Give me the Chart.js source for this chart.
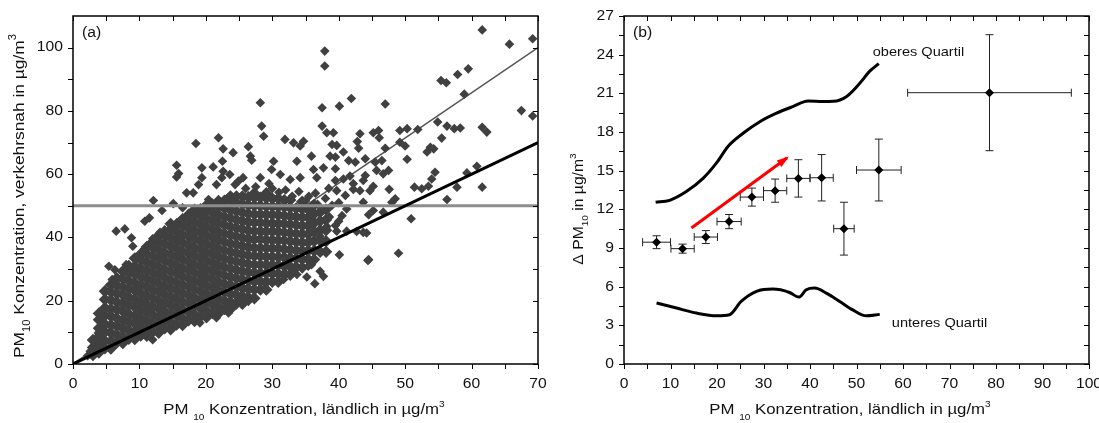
<!DOCTYPE html>
<html>
<head>
<meta charset="utf-8">
<script src="https://cdn.jsdelivr.net/npm/chart.js@4.4.0/dist/chart.umd.min.js"></script>
<style>
  body { margin: 0; background: #fff; }
  #wrap { position: relative; width: 1099px; height: 423px; }
  .panel { position: absolute; top: 0; }
  #panelA { left: 0; }
  #panelB { left: 549px; }
</style>
</head>
<body>
<div id="wrap">
  <div class="panel" id="panelA"><canvas id="chartA" width="549" height="423"></canvas></div>
  <div class="panel" id="panelB"><canvas id="chartB" width="550" height="423"></canvas></div>
</div>
<script>
// ---------- panel (a): PM10 laendlich vs verkehrsnah ----------
// dense part of the cloud, read column by column
const coreRural = [3.0, 3.9, 4.8, 5.7, 6.6, 7.5, 8.4, 9.3, 10.2, 11.1, 12.0, 12.9, 13.8, 14.7, 15.6, 16.5,
  17.4, 18.3, 19.2, 20.1, 21.0, 21.9, 22.8, 23.7, 24.6, 25.5, 26.4, 27.3, 28.2, 29.1, 30.0, 30.9,
  31.8, 32.7, 33.6, 34.5, 35.4, 36.3, 37.2, 38.1];
const coreRoadside = [
  [2.8, 5.2, 7.6],
  [3.6, 6.2, 8.7, 11.3, 14.0, 16.0],
  [5.0, 7.3, 10.1, 12.6, 15.3, 17.7, 20.4, 23.0],
  [4.9, 7.2, 9.9, 12.3, 15.1, 17.4, 20.2, 22.8, 25.0],
  [6.8, 9.2, 12.0, 14.5, 17.2, 19.6, 22.3, 24.9, 27.1],
  [6.6, 8.7, 11.4, 13.9, 16.7, 19.2, 21.9, 24.3, 27.0, 29.3],
  [8.0, 10.7, 13.3, 15.8, 18.6, 21.1, 23.8, 26.3, 28.9, 31.0],
  [7.9, 10.0, 12.7, 15.2, 18.0, 20.5, 23.2, 25.7, 28.4, 30.9, 33.4],
  [9.0, 11.8, 14.5, 17.0, 19.8, 22.4, 25.0, 27.7, 30.2, 32.9, 34.8],
  [8.9, 10.9, 13.6, 16.4, 18.9, 21.6, 24.3, 26.9, 29.6, 32.2, 34.8, 37.0],
  [10.2, 12.9, 15.5, 18.2, 20.9, 23.5, 26.2, 28.8, 31.5, 34.1, 36.8, 38.6],
  [9.9, 12.1, 14.8, 17.5, 20.1, 22.8, 25.4, 28.1, 30.7, 33.4, 36.0, 38.6, 40.6],
  [11.3, 14.0, 16.6, 19.3, 22.0, 24.6, 27.3, 29.9, 32.6, 35.2, 37.9, 40.5, 42.0],
  [11.0, 13.2, 15.9, 18.6, 21.2, 23.9, 26.5, 29.2, 31.9, 34.5, 37.2, 39.8, 42.5, 44.3],
  [12.5, 15.2, 17.8, 20.5, 23.2, 25.8, 28.5, 31.1, 33.8, 36.4, 39.1, 41.7, 44.2],
  [12.3, 14.4, 17.1, 19.7, 22.4, 25.0, 27.7, 30.3, 33.0, 35.6, 38.3, 40.9, 43.6, 45.8],
  [13.8, 16.4, 19.1, 21.7, 24.4, 27.0, 29.7, 32.3, 35.0, 37.6, 40.3, 42.9, 45.5, 47.2],
  [13.6, 15.6, 18.3, 20.9, 23.6, 26.2, 28.9, 31.5, 34.2, 36.8, 39.5, 42.1, 44.8, 47.4, 48.8],
  [15.0, 17.6, 20.3, 22.9, 25.6, 28.2, 30.9, 33.5, 36.2, 38.8, 41.5, 44.1, 46.8, 48.9],
  [14.8, 16.8, 19.4, 22.1, 24.7, 27.4, 30.0, 32.7, 35.3, 38.0, 40.6, 43.3, 45.9, 48.6, 50.2],
  [16.1, 18.8, 21.4, 24.1, 26.7, 29.4, 32.0, 34.7, 37.3, 40.0, 42.6, 45.3, 47.9, 50.4],
  [16.0, 18.0, 20.6, 23.3, 25.9, 28.6, 31.2, 33.9, 36.5, 39.2, 41.8, 44.5, 47.1, 49.8, 51.5],
  [17.4, 20.0, 22.7, 25.3, 28.0, 30.6, 33.3, 35.9, 38.6, 41.2, 43.9, 46.5, 49.2, 51.6],
  [17.4, 19.6, 22.2, 24.9, 27.5, 30.2, 32.8, 35.5, 38.1, 40.8, 43.4, 46.1, 48.7, 51.4, 53.0],
  [19.1, 21.8, 24.4, 27.1, 29.7, 32.4, 35.0, 37.7, 40.3, 43.0, 45.6, 48.3, 50.9, 53.0],
  [19.0, 21.4, 24.0, 26.7, 29.3, 32.0, 34.6, 37.3, 39.9, 42.6, 45.2, 47.9, 50.5, 53.0],
  [21.0, 23.7, 26.3, 29.0, 31.6, 34.3, 36.9, 39.6, 42.2, 44.9, 47.5, 50.2, 52.7],
  [20.8, 23.5, 26.1, 28.8, 31.4, 34.1, 36.7, 39.4, 42.0, 44.7, 47.3, 50.0, 52.6, 54.0],
  [23.5, 26.1, 28.8, 31.4, 34.1, 36.7, 39.4, 42.0, 44.7, 47.3, 50.0, 52.6],
  [23.5, 26.0, 28.6, 31.3, 33.9, 36.6, 39.2, 41.9, 44.5, 47.2, 49.8, 52.5, 54.0],
  [26.0, 28.6, 31.3, 33.9, 36.6, 39.2, 41.9, 44.5, 47.2, 49.8, 52.3],
  [26.0, 28.5, 31.2, 33.8, 36.5, 39.1, 41.8, 44.4, 47.1, 49.7, 52.3],
  [28.4, 31.0, 33.7, 36.3, 39.0, 41.6, 44.3, 46.9, 49.6, 51.8],
  [28.2, 30.8, 33.5, 36.1, 38.8, 41.4, 44.1, 46.7, 49.4, 51.8],
  [30.6, 33.3, 35.9, 38.6, 41.2, 43.9, 46.5, 49.2],
  [30.5, 33.1, 35.8, 38.4, 41.1, 43.7, 46.4, 49.0, 51.3],
  [33.1, 35.8, 38.4, 41.1, 43.7, 46.3, 48.8],
  [33.0, 35.8, 38.9, 41.8, 44.6, 47.5, 50.3],
  [35.5, 39.0, 42.3, 45.2, 48.0],
  [35.5, 38.8, 42.3, 45.6, 48.8]
];
// scattered points around the cloud
const outRural = [61.6, 65.7, 69.2, 59.5, 57.9, 55.4, 56.2, 58.9, 41.9, 40.1, 47.0, 67.5, 69.2, 54.9, 56.3, 57.4,
  58.3, 61.6, 62.3, 51.9, 49.2, 50.3, 46.0, 46.1, 55.5, 43.2, 42.8, 39.2, 49.2, 50.0, 47.0, 43.0,
  53.8, 53.3, 54.3, 50.3, 44.0, 45.5, 46.5, 47.5, 46.7, 45.7, 44.0, 54.5, 54.0, 53.5, 52.5, 51.4,
  59.3, 60.8, 61.6, 57.8, 56.3, 47.6, 48.5, 48.0, 50.9, 49.0, 44.4, 40.1, 43.7, 44.2, 42.7, 45.2,
  46.7, 44.5, 41.2, 40.5, 39.5, 43.7, 43.2, 44.7, 43.7, 42.2, 41.0, 39.7, 40.7, 39.5, 42.5, 41.5,
  40.7, 39.5, 39.7, 39.5, 37.9, 37.9, 28.2, 37.5, 28.4, 28.7, 37.5, 38.2, 21.9, 26.4, 22.6, 24.1,
  26.7, 26.9, 31.9, 33.2, 34.7, 34.2, 35.9, 39.0, 38.7, 45.2, 19.4, 21.1, 22.5, 22.6, 23.6, 25.6,
  24.4, 21.6, 19.4, 28.2, 30.2, 29.9, 31.2, 32.7, 34.2, 33.7, 36.2, 37.7, 36.7, 41.7, 45.2, 42.2,
  40.0, 44.5, 39.7, 38.2, 37.2, 35.7, 35.4, 37.2, 37.7, 36.4, 33.7, 33.2, 18.5, 15.6, 15.9, 15.6,
  22.4, 24.9, 18.1, 18.9, 17.1, 20.4, 12.1, 13.4, 15.1, 16.5, 11.5, 10.8, 6.5, 7.8, 8.8, 9.0,
  13.1, 12.0, 14.8, 10.8, 5.4, 6.3, 8.0, 5.9, 9.3, 12.0, 3.8, 3.8, 21.6, 23.1, 25.1, 26.4,
  19.1, 23.4, 28.9, 31.7, 31.9, 41.2, 35.2, 35.9, 2.2, 2.6, 36.8, 38.0, 37.5, 39.0, 38.6, 40.0,
  35.5, 34.0, 32.0, 30.0, 27.5, 26.0, 29.5, 31.0, 33.0, 35.0, 36.5, 38.5];
const outRoadside = [105.6, 101.1, 102.8, 93.3, 91.5, 89.6, 88.9, 85.3, 83.9, 81.5, 82.2, 80.1, 78.4, 76.5, 75.2, 74.4,
  74.6, 74.8, 73.3, 74.1, 73.8, 74.4, 73.8, 71.5, 71.4, 72.8, 70.3, 73.1, 70.1, 68.9, 68.2, 68.2,
  68.5, 67.0, 68.0, 64.7, 64.9, 63.8, 64.3, 61.2, 60.1, 61.2, 59.6, 60.6, 58.5, 56.2, 55.4, 55.9,
  60.4, 62.5, 55.9, 55.9, 52.0, 55.2, 52.2, 51.1, 45.9, 35.0, 32.7, 34.5, 41.6, 41.4, 41.9, 48.5,
  48.0, 47.2, 49.0, 46.9, 43.8, 51.1, 54.8, 54.8, 58.0, 57.0, 53.3, 54.8, 58.5, 58.0, 63.8, 64.3,
  67.0, 65.4, 69.1, 61.7, 98.9, 94.2, 82.6, 81.0, 75.2, 72.0, 75.2, 73.1, 71.5, 68.7, 68.0, 66.8,
  65.7, 64.4, 71.0, 69.9, 70.4, 68.9, 65.7, 69.4, 65.7, 73.1, 62.0, 62.3, 64.1, 60.9, 59.9, 58.9,
  56.7, 56.7, 58.9, 58.9, 64.1, 61.5, 59.9, 58.3, 58.9, 64.1, 61.5, 62.0, 58.9, 59.4, 56.2, 55.2,
  45.1, 33.0, 42.0, 43.5, 40.4, 38.8, 30.9, 29.3, 27.7, 25.4, 28.3, 29.8, 69.7, 62.8, 60.2, 59.1,
  58.9, 57.8, 54.1, 56.7, 54.1, 52.0, 51.7, 48.5, 50.7, 49.4, 46.2, 45.1, 42.0, 42.7, 39.9, 37.2,
  41.6, 39.6, 43.8, 36.4, 30.9, 29.8, 31.4, 26.7, 29.8, 7.7, 9.8, 5.6, 14.6, 18.2, 20.3, 19.8,
  13.0, 16.1, 24.0, 26.7, 28.8, 42.0, 27.5, 31.4, 2.6, 4.0, 50.5, 52.3, 48.8, 50.2, 46.5, 51.0,
  53.0, 54.5, 55.0, 55.5, 56.0, 55.5, 57.0, 54.3, 53.0, 51.5, 54.0, 55.5];
const refLineX = [0, 70];
const oneToOneY = [0, 70];
const regressionY = [0, 100];
const limitY = [50, 50];

const xTicksA = [0, 10, 20, 30, 40, 50, 60, 70];
const yTicksA = [0, 20, 40, 60, 80, 100];

// ---------- panel (b): Delta PM10 per class ----------
const binRural = [7.0, 12.6, 17.6, 22.6, 27.5, 32.5, 37.5, 42.5, 47.3, 54.8, 78.6];
const binDelta = [9.45, 8.95, 9.85, 11.05, 12.95, 13.45, 14.4, 14.45, 10.5, 15.05, 21.05];
const binRuralErr = [3.0, 2.5, 2.5, 2.6, 2.5, 2.5, 2.5, 2.5, 2.2, 4.8, 17.6];
const binDeltaErr = [0.5, 0.35, 0.5, 0.55, 0.7, 0.9, 1.45, 1.8, 2.05, 2.4, 4.5];

const upperQX = [6.8, 9.8, 13.4, 17.0, 19.9, 22.4, 25.6, 29.2, 32.8, 36.3, 39.6, 42.8, 45.0, 47.8, 50.7, 52.8, 54.8];
const upperQY = [12.55, 12.7, 13.38, 14.4, 15.6, 16.9, 17.9, 18.8, 19.46, 19.97, 20.4, 20.36, 20.38, 20.74, 21.78, 22.7, 23.3];
const lowerQX = [7.0, 11.3, 15.6, 19.9, 22.7, 25.2, 28.5, 32.0, 35.6, 37.6, 39.2, 41.0, 43.5, 46.4, 49.2, 52.1, 55.0];
const lowerQY = [4.73, 4.34, 3.95, 3.74, 3.82, 4.85, 5.63, 5.81, 5.55, 5.19, 5.76, 5.89, 5.5, 4.85, 4.2, 3.74, 3.85];

const trendX = [14.5, 35.1];
const trendY = [10.55, 16.0];

const xTicksB = [0, 10, 20, 30, 40, 50, 60, 70, 80, 90, 100];
const yTicksB = [0, 3, 6, 9, 12, 15, 18, 21, 24, 27];

// ---------- helpers ----------
const FONT = "'Liberation Sans', Arial, sans-serif";
const SX = 1.12;

const zip = (xs, ys) => xs.map((x, i) => ({ x, y: ys[i] }));
const midpoints = t => t.slice(1).map((v, i) => (v + t[i]) / 2);

function stretchText(ctx, text, x, y, align) {
  const w = ctx.measureText(text).width * SX;
  let left = x;
  if (align === 'center') left = x - w / 2;
  if (align === 'right') left = x - w;
  ctx.save();
  ctx.translate(left, y);
  ctx.scale(SX, 1);
  ctx.textAlign = 'left';
  ctx.fillText(text, 0, 0);
  ctx.restore();
}

// text with sub/superscripts, centred on (cx, cy); rotated when vertical
function richText(ctx, parts, cx, cy, size, vertical) {
  const fontFor = p => (p.sub || p.sup ? Math.round(size * 0.62) : size) + 'px ' + FONT;
  let total = 0;
  parts.forEach(p => { ctx.font = fontFor(p); total += ctx.measureText(p.t).width * SX; });
  ctx.save();
  ctx.translate(cx, cy);
  if (vertical) ctx.rotate(-Math.PI / 2);
  let x = -total / 2;
  parts.forEach(p => {
    ctx.font = fontFor(p);
    const dy = p.sub ? size * 0.38 : p.sup ? -size * 0.5 : 0;
    ctx.save();
    ctx.translate(x, dy);
    ctx.scale(SX, 1);
    ctx.textAlign = 'left';
    ctx.textBaseline = 'alphabetic';
    ctx.fillText(p.t, 0, 0);
    ctx.restore();
    x += ctx.measureText(p.t).width * SX;
  });
  ctx.restore();
}

// frame, inner/outer ticks, tick labels and titles in Origin style
const framePlugin = {
  id: 'frame',
  afterDraw(chart, args, o) {
    const { ctx, chartArea: a, scales: { x, y } } = chart;
    const tl = 5;
    ctx.save();
    ctx.strokeStyle = '#000';
    ctx.lineWidth = 1;
    ctx.beginPath();
    o.xTicks.concat(midpoints(o.xTicks)).forEach(v => {
      const px = Math.round(x.getPixelForValue(v)) + 0.5;
      ctx.moveTo(px, a.bottom); ctx.lineTo(px, a.bottom + tl);
      ctx.moveTo(px, a.top); ctx.lineTo(px, a.top + tl);
    });
    o.yTicks.concat(midpoints(o.yTicks)).forEach(v => {
      const py = Math.round(y.getPixelForValue(v)) + 0.5;
      ctx.moveTo(a.left - tl, py); ctx.lineTo(a.left, py);
      ctx.moveTo(a.right - tl, py); ctx.lineTo(a.right, py);
    });
    ctx.stroke();
    ctx.lineWidth = 1.5;
    ctx.strokeRect(a.left, a.top, a.right - a.left, a.bottom - a.top);

    ctx.fillStyle = '#111';
    ctx.font = '14px ' + FONT;
    ctx.textBaseline = 'alphabetic';
    o.xTicks.forEach(v => stretchText(ctx, String(v), x.getPixelForValue(v), a.bottom + 24, 'center'));
    ctx.textBaseline = 'middle';
    o.yTicks.forEach(v => stretchText(ctx, String(v), a.left - 10, y.getPixelForValue(v), 'right'));

    ctx.textBaseline = 'alphabetic';
    richText(ctx, o.xTitle, o.xTitlePos[0], o.xTitlePos[1], 15, false);
    richText(ctx, o.yTitle, o.yTitlePos[0], o.yTitlePos[1], o.yTitleSize, true);

    ctx.font = '14px ' + FONT;
    stretchText(ctx, o.tag, a.left + 9, a.top + 21, 'left');
    ctx.font = '13px ' + FONT;
    (o.notes || []).forEach(n => stretchText(ctx, n.t, x.getPixelForValue(n.x), y.getPixelForValue(n.y), 'left'));
    ctx.restore();
  }
};

// error bars below the markers, arrow head after the lines
const errorBarPlugin = {
  id: 'errorBars',
  beforeDatasetsDraw(chart) {
    const { ctx, scales: { x, y } } = chart;
    const cap = 4;
    ctx.save();
    ctx.strokeStyle = '#222';
    ctx.lineWidth = 1;
    ctx.beginPath();
    binRural.forEach((v, i) => {
      const px = x.getPixelForValue(v), py = y.getPixelForValue(binDelta[i]);
      const x0 = x.getPixelForValue(v - binRuralErr[i]), x1 = x.getPixelForValue(v + binRuralErr[i]);
      const y0 = y.getPixelForValue(binDelta[i] - binDeltaErr[i]), y1 = y.getPixelForValue(binDelta[i] + binDeltaErr[i]);
      ctx.moveTo(x0, py); ctx.lineTo(x1, py);
      ctx.moveTo(x0, py - cap); ctx.lineTo(x0, py + cap);
      ctx.moveTo(x1, py - cap); ctx.lineTo(x1, py + cap);
      ctx.moveTo(px, y0); ctx.lineTo(px, y1);
      ctx.moveTo(px - cap, y0); ctx.lineTo(px + cap, y0);
      ctx.moveTo(px - cap, y1); ctx.lineTo(px + cap, y1);
    });
    ctx.stroke();
    ctx.restore();
  },
  afterDatasetsDraw(chart) {
    const { ctx, scales: { x, y } } = chart;
    const n = trendX.length;
    const x1 = x.getPixelForValue(trendX[n - 1]), y1 = y.getPixelForValue(trendY[n - 1]);
    const x0 = x.getPixelForValue(trendX[n - 2]), y0 = y.getPixelForValue(trendY[n - 2]);
    const ang = Math.atan2(y1 - y0, x1 - x0);
    const len = 10, half = 4;
    ctx.save();
    ctx.fillStyle = '#ff0000';
    ctx.translate(x1, y1);
    ctx.rotate(ang);
    ctx.beginPath();
    ctx.moveTo(2, 0);
    ctx.lineTo(-len, -half);
    ctx.lineTo(-len, half);
    ctx.closePath();
    ctx.fill();
    ctx.restore();
  }
};

const baseOptions = (xMax, yMax, padding, frame) => ({
  responsive: false,
  animation: false,
  layout: { padding },
  scales: {
    x: { type: 'linear', min: 0, max: xMax, display: false },
    y: { type: 'linear', min: 0, max: yMax, display: false }
  },
  plugins: { legend: { display: false }, tooltip: { enabled: false }, frame }
});

// ---------- chart (a) ----------
const core = [];
coreRural.forEach((xv, i) => coreRoadside[i].forEach(yv => core.push({ x: xv, y: yv })));

// first dataset is painted last (on top): 1:1 and limit line over the points, regression under them
new Chart(document.getElementById('chartA'), {
  type: 'scatter',
  data: {
    datasets: [
      { data: zip(refLineX, oneToOneY), showLine: true, borderColor: '#000', borderWidth: 3, pointRadius: 0 },
      { data: zip(refLineX, limitY), showLine: true, borderColor: '#8c8c8c', borderWidth: 3, pointRadius: 0 },
      { data: zip(outRural, outRoadside), pointStyle: 'rectRot', pointRadius: 4.8, backgroundColor: '#404040', borderWidth: 0 },
      { data: core, pointStyle: 'rectRot', pointRadius: 6.2, backgroundColor: '#404040', borderWidth: 0 },
      { data: zip(refLineX, regressionY), showLine: true, borderColor: '#555', borderWidth: 1.5, pointRadius: 0 }
    ]
  },
  options: baseOptions(70, 110, { left: 73, right: 11, top: 16, bottom: 59 }, {
    xTicks: xTicksA, yTicks: yTicksA, tag: '(a)',
    xTitle: [{ t: 'PM ' }, { t: '10', sub: true }, { t: ' Konzentration, ländlich in µg/m' }, { t: '3', sup: true }],
    xTitlePos: [304, 414],
    yTitle: [{ t: 'PM' }, { t: '10', sub: true }, { t: ' Konzentration, verkehrsnah in µg/m' }, { t: '3', sup: true }],
    yTitlePos: [24, 196], yTitleSize: 15.5
  }),
  plugins: [framePlugin]
});

// ---------- chart (b) ----------
new Chart(document.getElementById('chartB'), {
  type: 'scatter',
  data: {
    datasets: [
      { data: zip(binRural, binDelta), pointStyle: 'rectRot', pointRadius: 4.5, backgroundColor: '#000', borderWidth: 0 },
      { data: zip(trendX, trendY), showLine: true, borderColor: '#ff0000', borderWidth: 3, pointRadius: 0 },
      { data: zip(upperQX, upperQY), showLine: true, borderColor: '#000', borderWidth: 3, pointRadius: 0, cubicInterpolationMode: 'monotone' },
      { data: zip(lowerQX, lowerQY), showLine: true, borderColor: '#000', borderWidth: 3, pointRadius: 0, cubicInterpolationMode: 'monotone' }
    ]
  },
  options: baseOptions(100, 27, { left: 75, right: 10, top: 16, bottom: 59 }, {
    xTicks: xTicksB, yTicks: yTicksB, tag: '(b)',
    xTitle: [{ t: 'PM ' }, { t: '10', sub: true }, { t: ' Konzentration, ländlich in µg/m' }, { t: '3', sup: true }],
    xTitlePos: [850 - 549, 414],
    yTitle: [{ t: 'Δ PM' }, { t: '10', sub: true }, { t: ' in µg/m' }, { t: '3', sup: true }],
    yTitlePos: [583 - 549, 209], yTitleSize: 14,
    notes: [{ t: 'oberes Quartil', x: 53.5, y: 23.9 }, { t: 'unteres Quartil', x: 57.6, y: 2.85 }]
  }),
  plugins: [framePlugin, errorBarPlugin]
});
</script>
</body>
</html>
